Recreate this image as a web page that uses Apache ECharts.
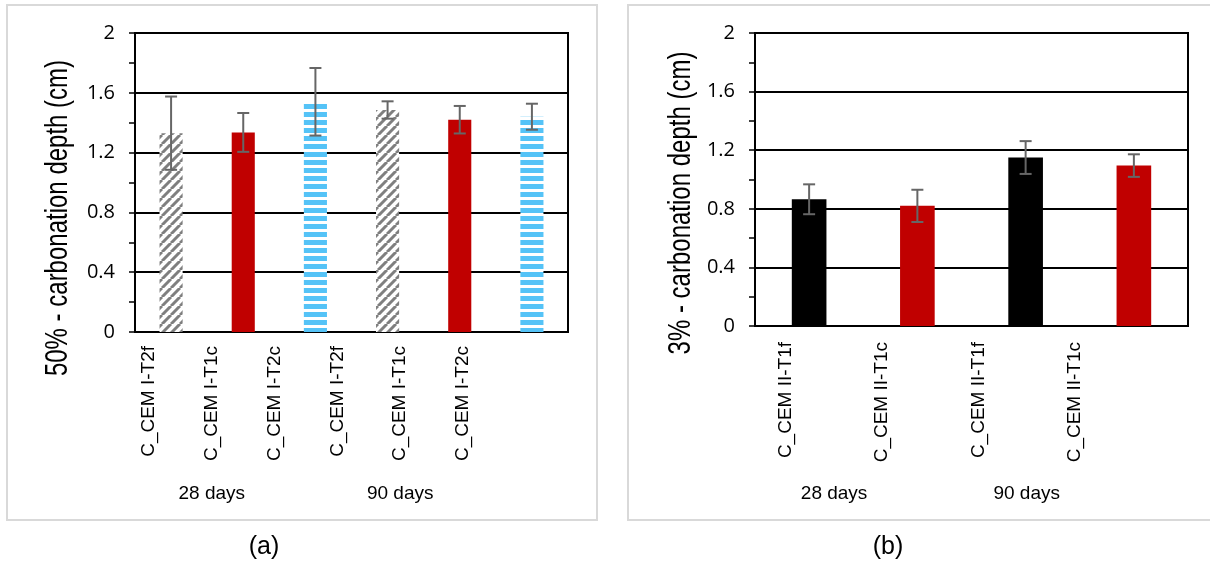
<!DOCTYPE html>
<html>
<head>
<meta charset="utf-8">
<script src="https://cdn.jsdelivr.net/npm/echarts@6/dist/echarts.min.js"></script>
<style>
  html, body { margin: 0; padding: 0; background: #fff; }
  #chart { width: 1210px; height: 562px; }
</style>
</head>
<body>
<div id="chart"></div>
<script>
// Panel (a): 50% CO2 carbonation depth
const catsA = ['C_CEM I-T2f', 'C_CEM I-T1c', 'C_CEM I-T2c', 'C_CEM I-T2f', 'C_CEM I-T1c', 'C_CEM I-T2c'];
const depthA = [1.33, 1.335, 1.54, 1.485, 1.42, 1.44];
const errA = [0.245, 0.13, 0.226, 0.058, 0.092, 0.087];
const fillA = ['hatch', 'red', 'stripe', 'hatch', 'red', 'stripe'];

// Panel (b): 3% CO2 carbonation depth
const catsB = ['C_CEM II-T1f', 'C_CEM II-T1c', 'C_CEM II-T1f', 'C_CEM II-T1c'];
const depthB = [0.865, 0.82, 1.15, 1.095];
const errB = [0.102, 0.11, 0.112, 0.077];
const fillB = ['black', 'red', 'black', 'red'];

const ages = ['28 days', '90 days'];
const yMin = 0, yMax = 2, yStep = 0.4;

// Tile patterns for the bar fills
function hatchTile() {
  const s = 9, c = document.createElement('canvas');
  c.width = s; c.height = s;
  const g = c.getContext('2d');
  g.fillStyle = '#fff'; g.fillRect(0, 0, s, s);
  g.strokeStyle = '#7f7f7f'; g.lineWidth = 3;
  for (let k = -1; k <= 1; k++) {
    g.beginPath(); g.moveTo(k * s, s); g.lineTo(k * s + s, 0); g.stroke();
  }
  return c;
}
function stripeTile() {
  const c = document.createElement('canvas');
  c.width = 8; c.height = 8;
  const g = c.getContext('2d');
  g.fillStyle = '#fff'; g.fillRect(0, 0, 8, 8);
  g.fillStyle = '#55c3f7'; g.fillRect(0, 0, 8, 5);
  return c;
}
const fills = {
  hatch: { image: hatchTile(), repeat: 'repeat' },
  stripe: { image: stripeTile(), repeat: 'repeat' },
  red: '#c00000',
  black: '#000000'
};

const labelFont = 'Liberation Sans, Arial, sans-serif';
const numFont = 'Open Sans, Liberation Sans, sans-serif';

function valueAxis(gridIndex) {
  return {
    type: 'value', gridIndex, min: yMin, max: yMax, interval: yStep,
    axisLine: { show: true, lineStyle: { color: '#000', width: 2 } },
    axisTick: { show: true, inside: false, length: 6, lineStyle: { color: '#000', width: 1.5 } },
    minorTick: { show: true, splitNumber: 2, length: 6, lineStyle: { color: '#000', width: 1.5 } },
    splitLine: { show: true, lineStyle: { color: '#000', width: 2 } },
    axisLabel: { fontSize: 20, color: '#000', fontFamily: numFont, margin: 20 }
  };
}
function hiddenValueAxis(gridIndex) {
  return { type: 'value', gridIndex, min: yMin, max: yMax, show: false };
}
function plotCatAxis(gridIndex, cats) {
  return {
    type: 'category', gridIndex, data: cats, position: 'bottom',
    axisLine: { show: true, lineStyle: { color: '#000', width: 2 } },
    axisTick: { show: false }, axisLabel: { show: false }, splitLine: { show: false }
  };
}
function labelCatAxis(gridIndex, cats, margin) {
  return {
    type: 'category', gridIndex, data: cats, position: 'bottom',
    axisLine: { show: false }, axisTick: { show: false },
    axisLabel: { rotate: 90, interval: 0, fontSize: 19, color: '#000', fontFamily: labelFont, margin }
  };
}
function groupAxis(gridIndex, offset) {
  return {
    type: 'category', gridIndex, data: ages, position: 'bottom', offset,
    axisLine: { show: false }, axisTick: { show: false },
    axisLabel: { interval: 0, fontSize: 19, color: '#000', fontFamily: labelFont, margin: 8 }
  };
}

function barSeries(xi, yi, vals, kinds) {
  return {
    type: 'bar', xAxisIndex: xi, yAxisIndex: yi, barWidth: '32%', z: 3,
    data: vals.map((v, i) => ({ value: v, itemStyle: { color: fills[kinds[i]] } }))
  };
}
function errSeries(xi, yi, vals, errs) {
  return {
    type: 'custom', xAxisIndex: xi, yAxisIndex: yi, z: 5,
    data: vals.map((v, i) => [i, v - errs[i], v + errs[i]]),
    renderItem(params, api) {
      const lo = api.coord([api.value(0), api.value(1)]);
      const hi = api.coord([api.value(0), api.value(2)]);
      const w = 6;
      const st = { stroke: '#666', lineWidth: 2 };
      return {
        type: 'group',
        children: [
          { type: 'line', shape: { x1: hi[0], y1: hi[1], x2: lo[0], y2: lo[1] }, style: st },
          { type: 'line', shape: { x1: hi[0] - w, y1: hi[1], x2: hi[0] + w, y2: hi[1] }, style: st },
          { type: 'line', shape: { x1: lo[0] - w, y1: lo[1], x2: lo[0] + w, y2: lo[1] }, style: st }
        ]
      };
    }
  };
}

const option = {
  animation: false,
  backgroundColor: '#fff',
  grid: [
    { left: 135, top: 33, width: 433, height: 299, show: true, borderColor: '#000', borderWidth: 2, backgroundColor: 'transparent' },
    { left: 117.6, top: 33, width: 376.8, height: 299 },
    { left: 755, top: 33, width: 433, height: 293, show: true, borderColor: '#000', borderWidth: 2, backgroundColor: 'transparent' },
    { left: 737.8, top: 33, width: 385.2, height: 293 }
  ],
  xAxis: [
    plotCatAxis(0, catsA),
    labelCatAxis(1, catsA, 14),
    groupAxis(1, 144),
    plotCatAxis(2, catsB),
    labelCatAxis(3, catsB, 16),
    groupAxis(3, 150)
  ],
  yAxis: [valueAxis(0), hiddenValueAxis(1), valueAxis(2), hiddenValueAxis(3)],
  series: [
    barSeries(0, 0, depthA, fillA),
    errSeries(0, 0, depthA, errA),
    barSeries(3, 2, depthB, fillB),
    errSeries(3, 2, depthB, errB)
  ],
  graphic: [
    { type: 'rect', shape: { x: 7, y: 5, width: 590, height: 515 }, style: { fill: 'none', stroke: '#d9d9d9', lineWidth: 2 }, z: -1 },
    { type: 'rect', shape: { x: 628, y: 5, width: 600, height: 515 }, style: { fill: 'none', stroke: '#d9d9d9', lineWidth: 2 }, z: -1 },
    { type: 'text', x: 58, y: 218, rotation: Math.PI / 2, scaleY: 1.3,
      style: { text: '50% - carbonation depth (cm)', font: '24px Liberation Sans, Arial, sans-serif', fill: '#000', textAlign: 'center', textVerticalAlign: 'middle' } },
    { type: 'text', x: 681, y: 203, rotation: Math.PI / 2, scaleY: 1.3,
      style: { text: '3% - carbonation depth (cm)', font: '24px Liberation Sans, Arial, sans-serif', fill: '#000', textAlign: 'center', textVerticalAlign: 'middle' } },
    { type: 'text', x: 264, y: 547,
      style: { text: '(a)', font: '25px Liberation Sans, Arial, sans-serif', fill: '#000', textAlign: 'center', textVerticalAlign: 'middle' } },
    { type: 'text', x: 888, y: 547,
      style: { text: '(b)', font: '25px Liberation Sans, Arial, sans-serif', fill: '#000', textAlign: 'center', textVerticalAlign: 'middle' } }
  ]
};

const chart = echarts.init(document.getElementById('chart'), null, { renderer: 'canvas' });
chart.setOption(option);
</script>
</body>
</html>
